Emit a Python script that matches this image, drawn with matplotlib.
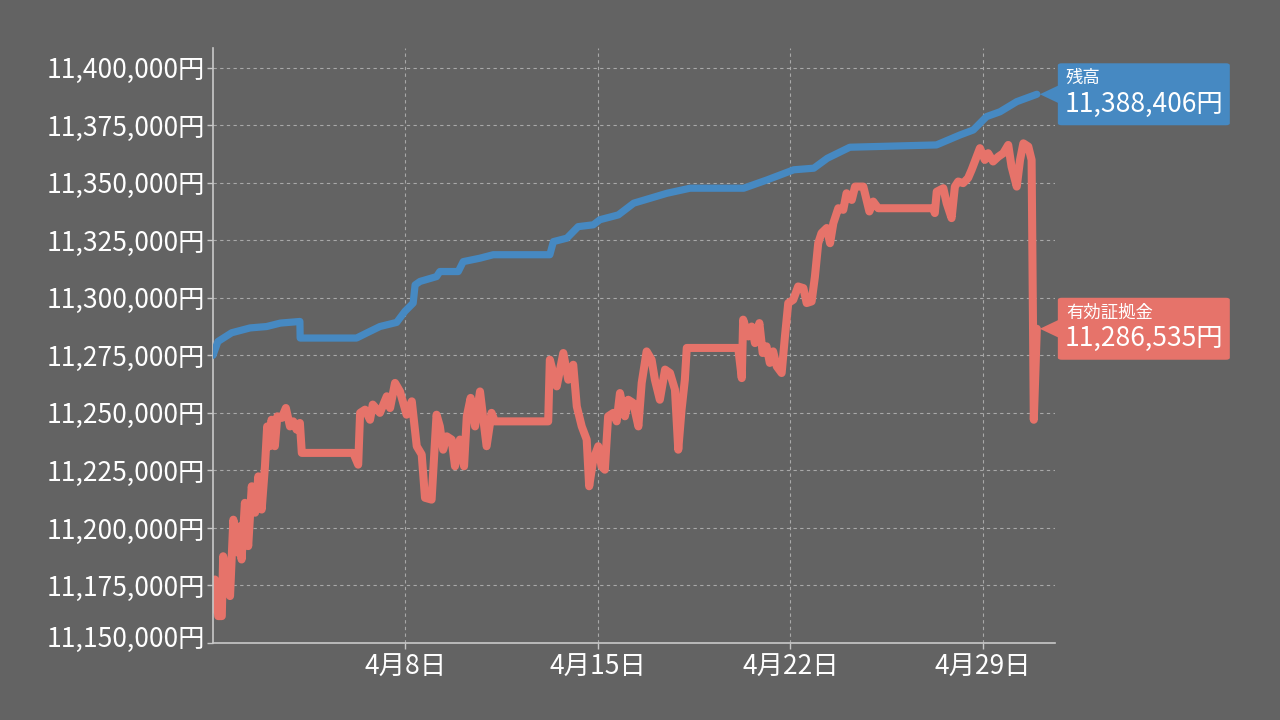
import numpy as np
import pandas as pd
import matplotlib
matplotlib.use("Agg")
import matplotlib.pyplot as plt
import matplotlib.dates as mdates
from matplotlib.patches import FancyBboxPatch, Polygon
from matplotlib.transforms import ScaledTranslation

plt.rcParams['font.family'] = ['Noto Sans CJK JP', 'DejaVu Sans']

# 残高 (4月1日からの経過日数, 円)
zandaka_days = [0.00, 0.18, 0.68, 1.35, 1.95, 2.45, 3.16, 3.17, 5.22, 5.59, 6.07, 6.68,
                6.98, 7.28, 7.35, 7.53, 8.13, 8.25, 8.92, 9.10, 9.71, 10.19, 12.25, 12.38,
                12.87, 13.28, 13.83, 14.07, 14.74, 15.30, 16.51, 17.35, 19.30, 20.15, 21.12,
                21.85, 22.34, 23.16, 26.31, 27.16, 27.65, 28.13, 28.62, 29.23, 29.96]
zandaka = [11275000, 11281000, 11284800, 11286900, 11287500, 11289000, 11289700, 11282500,
           11282500, 11284700, 11287500, 11289300, 11294100, 11297700, 11305600, 11307100,
           11309200, 11311400, 11311400, 11315700, 11317200, 11318700, 11318700, 11324400,
           11325900, 11330900, 11331700, 11333900, 11336000, 11341100, 11345400, 11347600,
           11347600, 11351200, 11355600, 11356300, 11360600, 11365400, 11366400, 11370700,
           11372900, 11378700, 11380800, 11385200, 11388406]

# 有効証拠金
shokokin_days = [0.00, 0.07, 0.19, 0.32, 0.37, 0.50, 0.56, 0.62, 0.74, 0.92, 0.98, 1.04,
                 1.16, 1.28, 1.41, 1.53, 1.65, 1.77, 1.89, 1.97, 2.07, 2.13, 2.25, 2.34,
                 2.50, 2.65, 2.80, 2.92, 3.04, 3.16, 3.23, 5.10, 5.28, 5.35, 5.53, 5.71,
                 5.81, 6.07, 6.32, 6.44, 6.62, 6.80, 7.04, 7.23, 7.41, 7.59, 7.71, 7.95,
                 8.13, 8.25, 8.37, 8.50, 8.68, 8.80, 8.98, 9.13, 9.23, 9.37, 9.53, 9.71,
                 9.85, 9.95, 10.13, 10.25, 12.19, 12.25, 12.50, 12.74, 12.92, 13.10, 13.23,
                 13.41, 13.59, 13.68, 13.83, 14.01, 14.13, 14.25, 14.37, 14.56, 14.68, 14.80,
                 14.98, 15.10, 15.28, 15.47, 15.59, 15.77, 15.95, 16.07, 16.25, 16.44, 16.62,
                 16.80, 16.92, 17.04, 17.16, 17.23, 19.10, 19.23, 19.28, 19.47, 19.59, 19.71,
                 19.87, 19.99, 20.13, 20.25, 20.37, 20.50, 20.68, 20.80, 20.92, 21.10, 21.28,
                 21.47, 21.59, 21.77, 21.89, 22.01, 22.13, 22.32, 22.44, 22.56, 22.74, 22.92,
                 23.04, 23.23, 23.35, 23.65, 23.77, 23.87, 24.01, 24.19, 26.19, 26.25, 26.32,
                 26.56, 26.68, 26.86, 26.98, 27.10, 27.28, 27.46, 27.59, 27.77, 27.89, 28.07,
                 28.19, 28.37, 28.56, 28.74, 28.92, 29.04, 29.23, 29.35, 29.47, 29.65, 29.77,
                 29.85, 29.96]
shokokin = [11164600, 11177600, 11161700, 11161700, 11187700, 11176200, 11180500, 11170400,
            11203600, 11189200, 11200700, 11186300, 11210900, 11192100, 11218100, 11206600,
            11222400, 11208000, 11226800, 11244100, 11235500, 11247000, 11235500, 11248500,
            11247800, 11252100, 11244100, 11246300, 11242700, 11245600, 11232600, 11232600,
            11227500, 11250000, 11251400, 11247000, 11253600, 11250000, 11257200, 11252100,
            11263000, 11259300, 11249200, 11255000, 11235500, 11231900, 11213100, 11212300,
            11249200, 11244100, 11234000, 11239800, 11238400, 11226800, 11238400, 11226800,
            11248500, 11256500, 11244100, 11259300, 11245600, 11235500, 11250000, 11246300,
            11246300, 11273100, 11261500, 11276000, 11264400, 11270900, 11252800, 11244100,
            11238400, 11218100, 11229700, 11235500, 11226800, 11225300, 11248500, 11250000,
            11246300, 11258600, 11248500, 11255700, 11254300, 11244100, 11263000, 11276700,
            11273100, 11264400, 11255700, 11268800, 11267300, 11260100, 11234000, 11251400,
            11264400, 11278200, 11278200, 11265100, 11290500, 11283200, 11287500, 11280300,
            11289000, 11276000, 11278900, 11271700, 11276700, 11270200, 11267300, 11283200,
            11297700, 11299100, 11304900, 11304200, 11297700, 11298400, 11309200, 11323700,
            11328100, 11330300, 11323700, 11332400, 11338900, 11338200, 11345400, 11342500,
            11348300, 11348300, 11342500, 11337500, 11341800, 11338900, 11338900, 11336800,
            11346100, 11347600, 11341100, 11334600, 11348300, 11350500, 11349800, 11352000,
            11355600, 11361300, 11365000, 11359900, 11362800, 11359200, 11361300, 11362800,
            11366400, 11357000, 11348300, 11359900, 11367100, 11365700, 11359900, 11247000,
            11286535]

yticks = list(range(11150000, 11400001, 25000))
xtick_dates = ['2024-04-08', '2024-04-15', '2024-04-22', '2024-04-29']

bg = '#636363'
blue = '#4689c2'
red = '#e6736a'

start = pd.Timestamp('2024-04-01')
t_zan = start + pd.to_timedelta(zandaka_days, unit='D')
t_sho = start + pd.to_timedelta(shokokin_days, unit='D')

fig = plt.figure(figsize=(12.8, 7.2), dpi=100, facecolor=bg)
ax = fig.add_axes([0.1664, 0.1069, 0.6578, 0.8264], facecolor=bg)

ax.plot(t_zan, zandaka, color=blue, lw=5.2, solid_joinstyle='round', solid_capstyle='round', zorder=3)
ax.plot(t_sho, shokokin, color=red, lw=5.8, solid_joinstyle='round', solid_capstyle='round', zorder=2)

ax.set_xlim(start, start + pd.Timedelta(days=30.62))
ax.set_ylim(11150000, 11408500)

ax.set_yticks(yticks)
ax.set_yticklabels([f'{v:,}円' for v in yticks])
ax.set_xticks(pd.to_datetime(xtick_dates))
ax.xaxis.set_major_formatter(mdates.DateFormatter('%-m月%-d日'))

ax.grid(True, color='#a8a8a8', linestyle=(0, (3, 3)), linewidth=0.8)
ax.set_axisbelow(True)
for s in ['top', 'right']:
    ax.spines[s].set_visible(False)
for s in ['left', 'bottom']:
    ax.spines[s].set_color('#c8c8c8')
    ax.spines[s].set_linewidth(1.2)
ax.tick_params(colors='#c8c8c8', labelcolor='white', labelsize=19, length=4, width=1, pad=2)
ax.tick_params(axis='x', pad=4)

# 右側の吹き出し
fig.canvas.draw()
inv = fig.transFigure.inverted()

# 一番下の目盛ラベルは少し上にずらす
lab0 = ax.get_yticklabels()[0]
lab0.set_transform(lab0.get_transform() + ScaledTranslation(0, 5 / 72, fig.dpi_scale_trans))


def callout(t, v, title, color):
    px, py = ax.transData.transform((mdates.date2num(t), v))
    left, w, h = px + 21, 172, 62
    bottom = py - h / 2
    box = FancyBboxPatch(inv.transform((left, bottom)), w / 1280, h / 720,
                         boxstyle='round,pad=0,rounding_size=0.003',
                         transform=fig.transFigure, facecolor=color, edgecolor='none')
    fig.add_artist(box)
    tri = Polygon([inv.transform((px + 3, py)), inv.transform((left + 1, py + 9)),
                   inv.transform((left + 1, py - 9))], closed=True,
                  transform=fig.transFigure, facecolor=color, edgecolor='none')
    fig.add_artist(tri)
    x0, y0 = inv.transform((left + 8, bottom + h - 15))
    fig.text(x0, y0, title, color='white', fontsize=12.5, va='center', ha='left')
    x1, y1 = inv.transform((left + 7, bottom + h - 41))
    fig.text(x1, y1, f'{v:,}円', color='white', fontsize=19, va='center', ha='left')


callout(t_zan[-1], zandaka[-1], '残高', blue)
callout(t_sho[-1], shokokin[-1], '有効証拠金', red)

fig.savefig('out.png', dpi=100, facecolor=bg)
